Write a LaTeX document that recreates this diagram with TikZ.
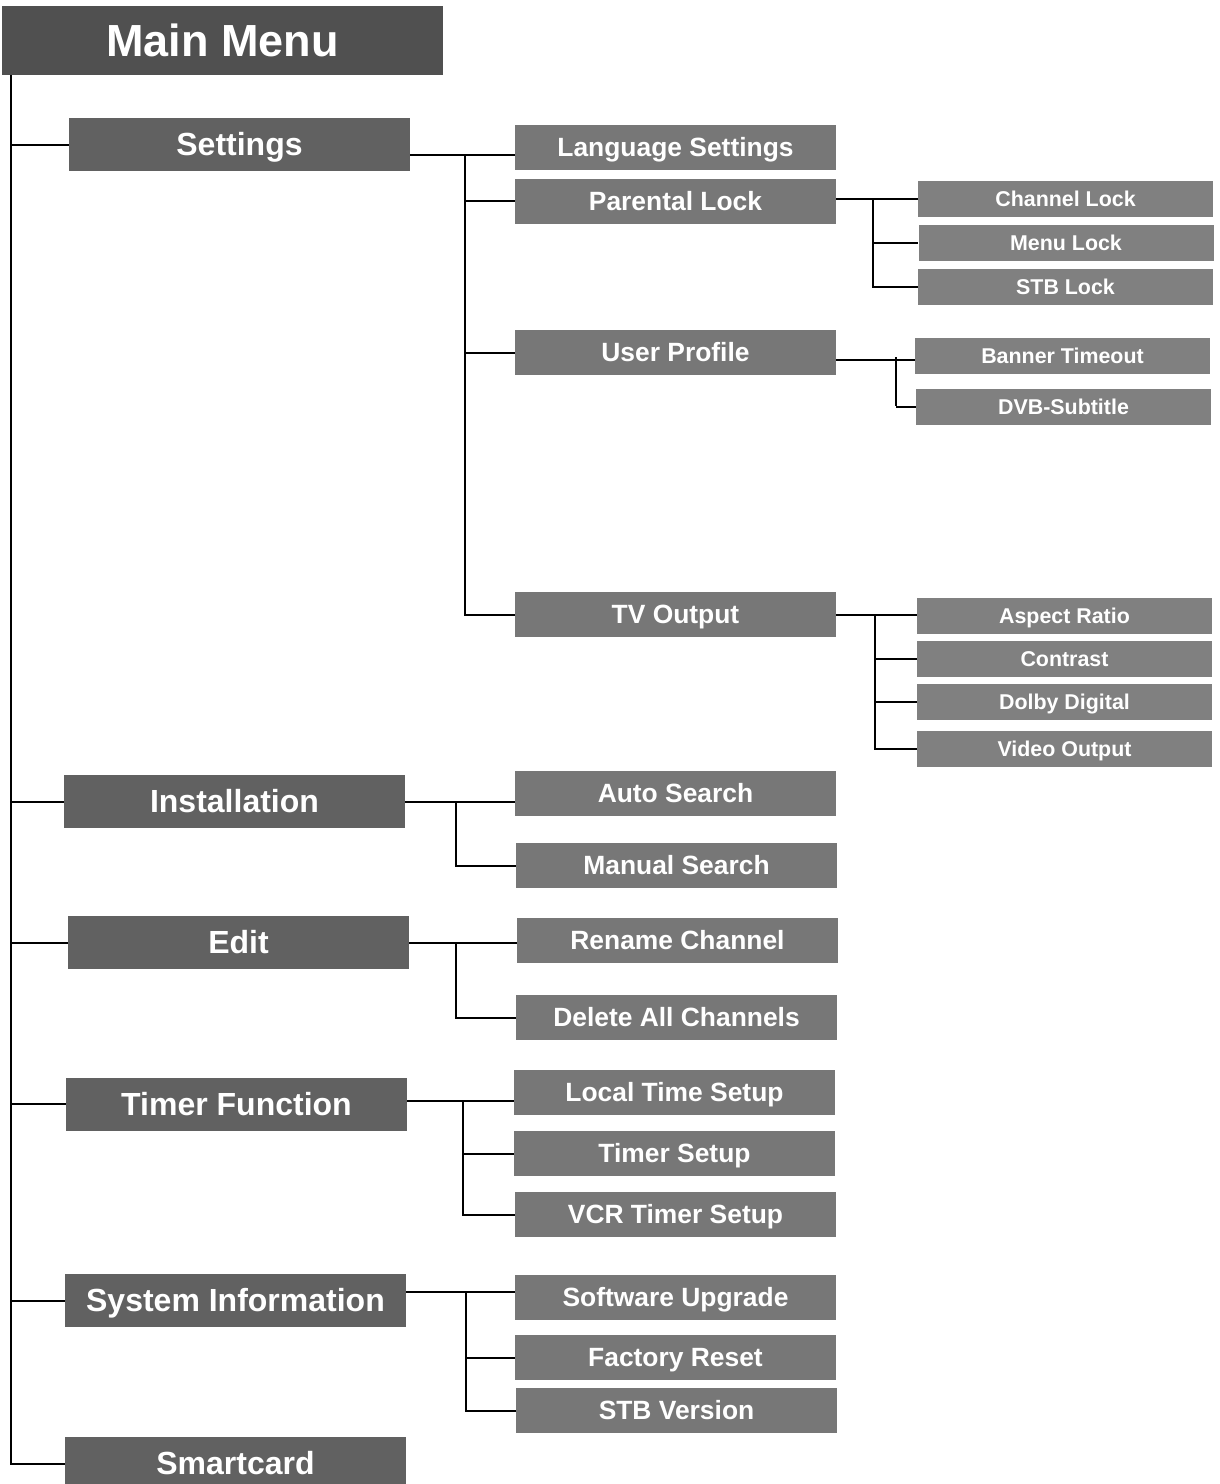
\documentclass[tikz,border=0pt]{standalone}
\usepackage{fontspec}
\setmainfont{Liberation Sans}
\usepackage{tikz}

\definecolor{headgray}{HTML}{505050}
\definecolor{topgray}{HTML}{616161}
\definecolor{subgray}{HTML}{777777}
\definecolor{leafgray}{HTML}{808080}

\begin{document}
\begin{tikzpicture}[
    x=1pt, y=-1pt,
    item/.style  = {rectangle, inner sep=0pt, text=white, text depth=0pt},
    head/.style  = {item, fill=headgray, minimum width=441pt, minimum height=69pt,
                    text height=32.2pt, font=\fontsize{45}{50}\selectfont\bfseries},
    top/.style   = {item, fill=topgray, minimum width=341pt, minimum height=53pt,
                    text height=22.9pt, font=\fontsize{32}{36}\selectfont\bfseries},
    sub/.style   = {item, fill=subgray, minimum width=321pt, minimum height=45pt,
                    text height=18.9pt, font=\fontsize{26.4}{30}\selectfont\bfseries},
    leaf/.style  = {item, fill=leafgray, minimum width=295pt, minimum height=36pt,
                    text height=15.3pt, font=\fontsize{21.4}{24}\selectfont\bfseries},
    wire/.style  = {draw=black, line width=2pt}
  ]
    \useasboundingbox (0,0) rectangle (1220,1484);

    % root
    \node[head] (mainmenu) at (222.5,40.5) {Main Menu};

    % first level
    \node[top] (settings)  at (239.5,144.5)  {Settings};
    \node[top] (install)   at (234.5,801.5)  {Installation};
    \node[top] (edit)      at (238.5,942.5)  {Edit};
    \node[top] (timer)     at (236.5,1104)   {Timer Function};
    \node[top] (sysinfo)   at (235.5,1300.5) {System Information};
    \node[top] (smartcard) at (235.5,1463.5) {Smartcard};

    % second level
    \node[sub] (language) at (675.5,147)  {Language Settings};
    \node[sub] (parental) at (675.5,201)  {Parental Lock};
    \node[sub] (profile)  at (675.5,352.5){User Profile};
    \node[sub] (tvout)    at (675.5,614.5){TV Output};
    \node[sub] (autosrch) at (675.5,793.5){Auto Search};
    \node[sub] (mansrch)  at (676.5,865.5){Manual Search};
    \node[sub] (rename)   at (677.5,940.5){Rename Channel};
    \node[sub] (delall)   at (676.5,1017.5){Delete All Channels};
    \node[sub] (localtm)  at (674.5,1092.5){Local Time Setup};
    \node[sub] (timerset) at (674.5,1153.5){Timer Setup};
    \node[sub] (vcrtimer) at (675.5,1214.5){VCR Timer Setup};
    \node[sub] (software) at (675.5,1297.5){Software Upgrade};
    \node[sub] (factory)  at (675.5,1357.5){Factory Reset};
    \node[sub] (stbver)   at (676.5,1410.5){STB Version};

    % third level
    \node[leaf] (chanlock) at (1065.5,198.5) {Channel Lock};
    \node[leaf] (menulock) at (1066,242.5)   {Menu Lock};
    \node[leaf] (stblock)  at (1065.5,287)   {STB Lock};
    \node[leaf] (banner)   at (1062.5,356)   {Banner Timeout};
    \node[leaf] (dvbsub)   at (1063.5,407)   {DVB-Subtitle};
    \node[leaf] (aspect)   at (1064.5,616)   {Aspect Ratio};
    \node[leaf] (contrast) at (1064.5,659)   {Contrast};
    \node[leaf] (dolby)    at (1064.5,702)   {Dolby Digital};
    \node[leaf] (video)    at (1064.5,749)   {Video Output};

    % spine of the root
    \coordinate (spine) at (11,75);
    \draw[wire] (spine) |- (smartcard.west);
    \foreach \n in {settings, install, edit, timer, sysinfo}
      \draw[wire] (spine |- \n.west) -- (\n.west);

    % settings branch
    \coordinate (setbus) at (465,155);
    \draw[wire] (settings.east |- setbus) -- (language.west |- setbus);
    \draw[wire] (setbus) |- (tvout.west);
    \foreach \n in {parental, profile}
      \draw[wire] (setbus |- \n.west) -- (\n.west);

    % installation branch
    \coordinate (insbus) at (456,802);
    \draw[wire] (install.east |- insbus) -- (autosrch.west |- insbus);
    \draw[wire] (insbus) |- (mansrch.west);

    % edit branch
    \coordinate (editbus) at (456,943);
    \draw[wire] (edit.east |- editbus) -- (rename.west |- editbus);
    \draw[wire] (editbus) |- (delall.west);

    % timer branch
    \coordinate (timerbus) at (463,1101);
    \draw[wire] (timer.east |- timerbus) -- (localtm.west |- timerbus);
    \draw[wire] (timerbus) |- (vcrtimer.west);
    \draw[wire] (timerbus |- timerset.west) -- (timerset.west);

    % system information branch
    \coordinate (sysbus) at (466,1292);
    \draw[wire] (sysinfo.east |- sysbus) -- (software.west |- sysbus);
    \draw[wire] (sysbus) |- (stbver.west);
    \draw[wire] (sysbus |- factory.west) -- (factory.west);

    % parental lock branch
    \coordinate (lockbus) at (873,199);
    \draw[wire] (parental.east |- lockbus) -- (chanlock.west |- lockbus);
    \draw[wire] (lockbus) |- (stblock.west);
    \draw[wire] (lockbus |- menulock.west) -- (menulock.west);

    % user profile branch
    \coordinate (profbus) at (896,360);
    \draw[wire] (profile.east |- profbus) -- (banner.west |- profbus);
    \draw[wire] ([yshift=3pt]profbus) -- ++(0,49);
    \draw[wire] (profbus |- dvbsub.west) -- (dvbsub.west);

    % tv output branch
    \coordinate (tvbus) at (875,615);
    \draw[wire] (tvout.east |- tvbus) -- (aspect.west |- tvbus);
    \draw[wire] (tvbus) |- (video.west);
    \foreach \n in {contrast, dolby}
      \draw[wire] (tvbus |- \n.west) -- (\n.west);
  \end{tikzpicture}
\end{document}
